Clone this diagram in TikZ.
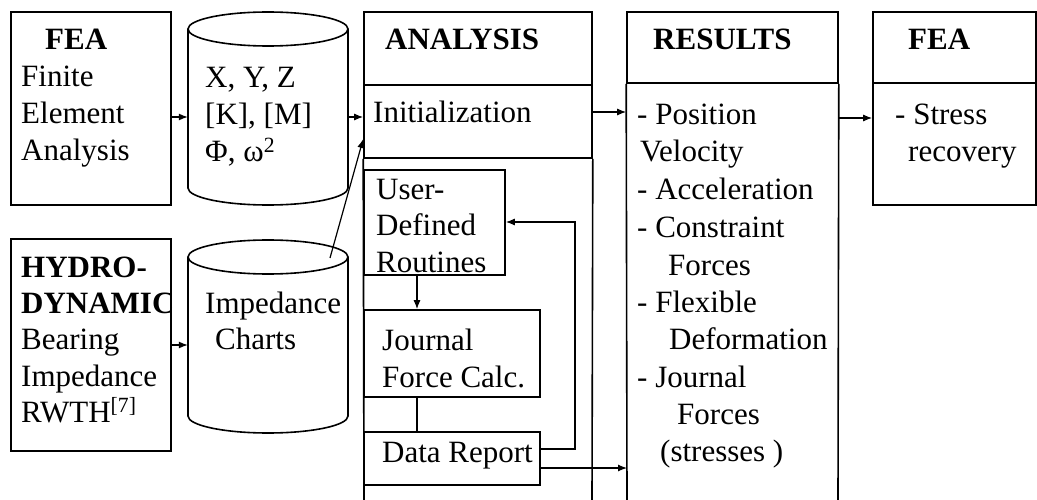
\documentclass[tikz,border=0pt]{standalone}
\usepackage{fontspec}
\setmainfont{Liberation Serif}
\usetikzlibrary{fit,arrows.meta}
\tikzset{
 box/.style={draw, line width=1.6pt, inner sep=0pt},
 area/.style={inner sep=0pt},
 txt/.style={anchor=base west, inner sep=0pt, font=\fontsize{31}{37}\selectfont},
 hd/.style={anchor=base west, inner sep=0pt, font=\fontsize{31}{37}\selectfont\bfseries},
 conn/.style={line width=1.2pt},
 arr/.style={line width=1.2pt, -{Latex[length=9pt,width=7pt]}},
 cyl/.style={line width=1.6pt},
}
\begin{document}
\begin{tikzpicture}[x=1pt,y=-1pt]
\useasboundingbox (0,0) rectangle (1037,500);
% left boxes
\node[box, fit={(11,12) (171,205)}] (feaL) {};
\node[box, fit={(11,239) (171,451)}] (hydro) {};
% cylinders
\node[area, fit={(188,12) (348,205)}] (cylA) {};
\draw[cyl] (268,29) ellipse[x radius=80, y radius=17];
\draw[cyl] (188,29) -- (188,188) arc[start angle=180, end angle=0, x radius=80, y radius=17] -- (348,29);
\node[area, fit={(188,240) (348,433)}] (cylB) {};
\draw[cyl] (268,257) ellipse[x radius=80, y radius=17];
\draw[cyl] (188,257) -- (188,416) arc[start angle=180, end angle=0, x radius=80, y radius=17] -- (348,257);
% analysis column
\node[box, fit={(364,12) (592,85)}] (anaHead) {};
\node[box, fit={(364,85) (592,158)}] (anaInit) {};
\coordinate (anaBL) at (364,500);
\coordinate (anaBR) at (592,500);
\draw[line width=1.6pt] (anaInit.south west) -- (anaBL);
\draw[line width=1.6pt] (anaInit.south east) -- (anaBR);
\node[box, fit={(364,170) (505,275)}] (user) {};
\node[box, fit={(364,310) (540,397)}] (journal) {};
\node[box, fit={(364,432) (540,485)}] (data) {};
% results column
\node[box, fit={(627,12) (838,83)}] (resHead) {};
\coordinate (resBL) at (627,500);
\coordinate (resBR) at (838,500);
\draw[line width=1.6pt] (resHead.south west) -- (resBL);
\draw[line width=1.6pt] (resHead.south east) -- (resBR);
% right FEA
\node[box, fit={(873,12) (1036,83)}] (feaRHead) {};
\node[box, fit={(873,83) (1036,205)}] (feaRBody) {};
% texts
\node[hd] (t1) at (45,50) {FEA};
\node[txt] (t2) at (21,87) {Finite};
\node[txt] (t3) at (21,124) {Element};
\node[txt] (t4) at (21,161) {Analysis};
\node[txt] (t5) at (205,88) {X, Y, Z};
\node[txt] (t6) at (205,125) {[K], [M]};
\node[txt] (t7) at (205,162) {Φ, ω\textsuperscript{2}};
\node[hd] (t8) at (21,277) {HYDRO-};
\node[hd] (t9) at (21,313) {DYNAMIC};
\node[txt] (t10) at (21,349) {Bearing};
\node[txt] (t11) at (21,386) {Impedance};
\node[txt] (t12) at (21,422) {RWTH\textsuperscript{[7]}};
\node[txt] (t13) at (205,313) {Impedance};
\node[txt] (t14) at (215,349) {Charts};
\node[hd] (t15) at (385,50) {ANALYSIS};
\node[txt] (t16) at (373,123) {Initialization};
\node[txt] (t17) at (376,200) {User-};
\node[txt] (t18) at (376,236) {Defined};
\node[txt] (t19) at (376,272) {Routines};
\node[txt] (t20) at (382,350) {Journal};
\node[txt] (t21) at (382,387) {Force Calc.};
\node[txt] (t22) at (382,462) {Data Report};
\node[hd] (t23) at (653,50) {RESULTS};
\node[txt] (r1) at (637,125) {- Position};
\node[txt] (r2) at (640,162) {Velocity};
\node[txt] (r3) at (637,200) {- Acceleration};
\node[txt] (r4) at (637,237) {- Constraint};
\node[txt] (r5) at (668,275) {Forces};
\node[txt] (r6) at (637,312) {- Flexible};
\node[txt] (r7) at (669,349) {Deformation};
\node[txt] (r8) at (637,387) {- Journal};
\node[txt] (r9) at (677,424) {Forces};
\node[txt] (r10) at (660,461) {(stresses )};
\node[hd] (t24) at (908,50) {FEA};
\node[txt] (t25) at (895,125) {- Stress};
\node[txt] (t26) at (908,162) {recovery};
% connectors
\draw[arr] (feaL.east |- 0,117) -- (cylA.west |- 0,117);
\draw[arr] (cylA.east |- 0,117) -- (anaInit.west |- 0,117);
\draw[arr] (hydro.east |- 0,345) -- (cylB.west |- 0,345);
\coordinate (cbTop) at (330,258);
\draw[arr] (cbTop) -- (anaInit.west |- 0,139);
\draw[arr] (anaInit.east |- 0,112) -- (resHead.south west |- 0,112);
\draw[arr] (resHead.east |- 0,118) -- (feaRBody.west |- 0,118);
\draw[arr] (user.south -| 417,0) -- (journal.north -| 417,0);
\draw[conn] (journal.south -| 417,0) -- (data.north -| 417,0);
\coordinate (fbk) at (575,222);
\draw[arr] (data.east |- 0,449) -| (fbk) -- (user.east |- fbk);
\draw[arr] (data.east |- 0,468) -- (resBL |- 0,468);
\end{tikzpicture}
\end{document}
